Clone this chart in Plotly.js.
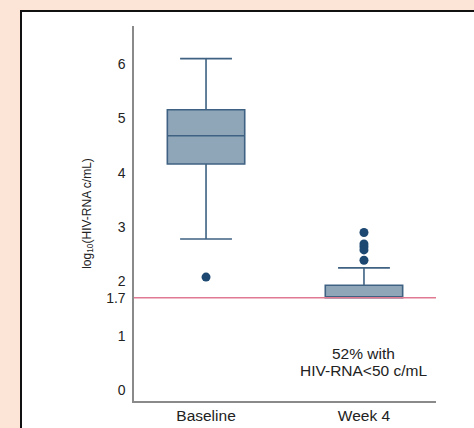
<!DOCTYPE html>
<html>
<head>
<meta charset="utf-8">
<script src="https://cdn.plot.ly/plotly-3.0.1.min.js"></script>
<style>
  html, body { margin: 0; padding: 0; background: #fce4d6; width: 474px; height: 428px; overflow: hidden; }
  #panel { position: absolute; left: 20px; top: 10px; width: 470px; height: 430px; background: #ffffff; border: 2px solid #111; box-sizing: border-box; }
  #chart { position: absolute; left: 0; top: 0; width: 474px; height: 428px; }
</style>
</head>
<body>
<div id="panel"></div>
<div id="chart"></div>
<script>
const categories = ['Baseline', 'Week 4'];
const q1 = [4.16, 1.70];
const median = [4.68, 1.70];
const q3 = [5.16, 1.93];
const lowerFence = [2.78, 1.70];
const upperFence = [6.10, 2.25];
const outlierCategory = ['Baseline', 'Week 4', 'Week 4', 'Week 4', 'Week 4', 'Week 4'];
const outlierValues = [2.08, 2.90, 2.69, 2.64, 2.58, 2.39];
const yTickVals = [0, 1, 1.7, 2, 3, 4, 5, 6];
const yTickText = ['0', '1', '1.7', '2', '3', '4', '5', '6'];
const limitValue = 1.7;
const noteLines = ['52% with', 'HIV-RNA<50 c/mL'];
const noteY = [0.68, 0.365];

const traces = [
  {
    type: 'box',
    x: categories,
    q1: q1,
    median: median,
    q3: q3,
    lowerfence: lowerFence,
    upperfence: upperFence,
    width: 0.49,
    whiskerwidth: 0.67,
    fillcolor: '#8fa5b8',
    line: { color: '#3f6283', width: 1.6 },
    boxpoints: false,
    hoverinfo: 'skip',
    showlegend: false
  },
  {
    type: 'scatter',
    mode: 'markers',
    x: outlierCategory,
    y: outlierValues,
    marker: { color: '#1d4871', size: 9 },
    hoverinfo: 'skip',
    showlegend: false
  }
];

const layout = {
  width: 474,
  height: 428,
  margin: { l: 134, r: 38, t: 26, b: 27 },
  paper_bgcolor: 'rgba(0,0,0,0)',
  plot_bgcolor: '#ffffff',
  font: { family: 'Liberation Sans, Arial, sans-serif', size: 13, color: '#222' },
  xaxis: {
    type: 'category',
    range: [-0.456, 1.456],
    showline: true,
    linecolor: '#8a8a8a',
    linewidth: 1.6,
    showgrid: false,
    zeroline: false,
    ticks: '',
    tickfont: { family: 'Liberation Sans, Arial, sans-serif', size: 15.5, color: '#222' }
  },
  yaxis: {
    range: [-0.2, 6.7],
    tickvals: yTickVals,
    ticktext: yTickText,
    showline: true,
    linecolor: '#8a8a8a',
    linewidth: 1.6,
    showgrid: false,
    zeroline: false,
    ticks: '',
    ticklabelstandoff: 4,
    tickfont: { family: 'Liberation Sans, Arial, sans-serif', size: 14, color: '#222' },
    title: {
      text: 'log<sub>10</sub>(HIV-RNA c/mL)',
      font: { family: 'Liberation Sans Narrow, Liberation Sans, Arial, sans-serif', size: 12, color: '#222' },
      standoff: 12
    }
  },
  shapes: [
    {
      type: 'line', xref: 'paper', x0: 0, x1: 1, yref: 'y', y0: limitValue, y1: limitValue,
      line: { color: '#e07a92', width: 1.6 }, layer: 'above'
    }
  ],
  annotations: noteLines.map((t, i) => ({
    xref: 'x', yref: 'y', x: 1, y: noteY[i], text: t, showarrow: false,
    font: { family: 'Liberation Sans, Arial, sans-serif', size: 15.5, color: '#222' },
    align: 'center', borderpad: 0
  }))
};

Plotly.newPlot('chart', traces, layout, { displayModeBar: false, staticPlot: true });
</script>
</body>
</html>
